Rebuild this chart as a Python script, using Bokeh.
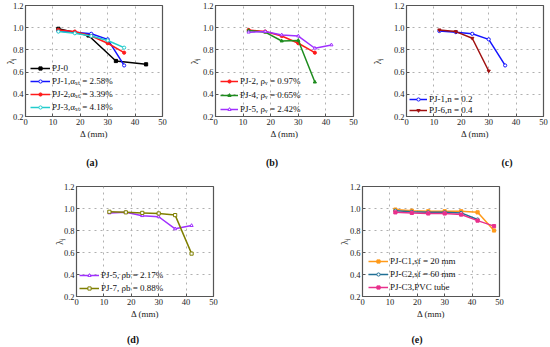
from bokeh.plotting import figure
from bokeh.layouts import row, column
from bokeh.models import Spacer, FixedTicker, Legend, LegendItem, Range1d, Div
from bokeh.embed import file_html
from bokeh.resources import INLINE

# ---------------- data ----------------
x_ticks = [0, 10, 20, 30, 40, 50]
x_tick_labels = ["0", "10", "20", "30", "40", "50"]
y_ticks = [0.2, 0.4, 0.6, 0.8, 1.0, 1.2]
y_tick_labels = ["0.2", "0.4", "0.6", "0.8", "1.0", "1.2"]
captions = ["(a)", "(b)", "(c)", "(d)", "(e)"]

pj0_x = [12, 23, 33, 44]
pj0_y = [0.99, 0.93, 0.70, 0.67]
d5 = [12, 18, 24, 30, 36]
pj1_y = [0.97, 0.96, 0.945, 0.895, 0.66]
pj2_y = [0.98, 0.965, 0.925, 0.86, 0.775]
pj3_y = [0.965, 0.95, 0.925, 0.885, 0.82]
pj4_y = [0.975, 0.96, 0.88, 0.885, 0.51]
d6 = [12, 18, 24, 30, 36, 42]
pj5_y = [0.96, 0.965, 0.935, 0.925, 0.815, 0.845]
d4 = [12, 18, 24, 30]
pj6_y = [0.98, 0.965, 0.905, 0.61]
pj7_y = [0.97, 0.965, 0.96, 0.955, 0.94, 0.59]
d7 = [12, 18, 24, 30, 36, 42, 48]
c1_y = [0.99, 0.98, 0.975, 0.975, 0.975, 0.965, 0.80]
c2_y = [0.98, 0.97, 0.965, 0.965, 0.96, 0.90]
c3_y = [0.965, 0.96, 0.955, 0.955, 0.945, 0.89, 0.84]

SERIF = "Liberation Serif"


def make_fig(w, h, bl, br, bt, bb, ylab_standoff):
    p = figure(width=w, height=h, min_border_left=bl, min_border_right=br,
               min_border_top=bt, min_border_bottom=bb,
               x_range=Range1d(0, 50), y_range=Range1d(0.2, 1.2),
               output_backend="svg", toolbar_location=None, tools="")
    p.outline_line_color = "#555555"
    p.outline_line_width = 1.2
    p.background_fill_color = "white"
    p.border_fill_color = "white"
    for ax in list(p.xaxis) + list(p.yaxis):
        ax.axis_line_color = None
        ax.major_tick_in = 3
        ax.major_tick_out = 0
        ax.major_tick_line_color = "#555555"
        ax.minor_tick_line_color = None
        ax.major_label_text_font = SERIF
        ax.major_label_text_font_size = "8.5px"
        ax.major_label_text_color = "#222222"
        ax.major_label_standoff = 2
        ax.axis_label_text_font = SERIF
        ax.axis_label_text_font_style = "normal"
        ax.axis_label_text_color = "#222222"
    p.xaxis.ticker = FixedTicker(ticks=x_ticks)
    p.yaxis.ticker = FixedTicker(ticks=y_ticks)
    p.xaxis.major_label_overrides = dict(zip(x_ticks, x_tick_labels))
    p.yaxis.major_label_overrides = dict(zip(y_ticks, y_tick_labels))
    p.xaxis.axis_label = "Δ (mm)"
    p.xaxis.axis_label_text_font_size = "9px"
    p.xaxis.axis_label_standoff = 1
    p.yaxis.axis_label = "λⱼ"
    p.yaxis.axis_label_text_font_size = "9.5px"
    p.yaxis.axis_label_standoff = ylab_standoff
    p.grid.grid_line_dash = "dotted"
    p.grid.grid_line_color = "#b0b0b0"
    return p


def series(p, x, y, color, marker, filled=True, size=3.2):
    l = p.line(x, y, line_color=color, line_width=1.5)
    s = p.scatter(x, y, marker=marker, size=size, line_color=color, line_width=1,
                  fill_color=color if filled else "white")
    return [l, s]


def add_legend(p, items, loc, h, gw):
    lg = Legend(items=[LegendItem(label=t, renderers=r) for t, r in items],
                location=loc, padding=0, margin=0, spacing=0,
                label_height=h, glyph_height=8, glyph_width=gw,
                label_standoff=2, label_text_font=SERIF,
                label_text_font_size="9px", label_text_color="#111111",
                background_fill_alpha=0, border_line_color=None)
    p.add_layout(lg)


def caption(text):
    return Div(text=text, width=40, height=13, margin=0,
               styles={"text-align": "center", "font-family": SERIF,
                       "font-size": "10px", "font-weight": "bold",
                       "color": "#111111", "line-height": "12px"})


# (a)
fa = make_fig(185, 157, 25, 23, 5, 41, -6)
ra0 = series(fa, pj0_x, pj0_y, "#000000", "square")
ra1 = series(fa, d5, pj1_y, "#1414ff", "circle", filled=False)
ra2 = series(fa, d5, pj2_y, "#ff1a1a", "circle")
ra3 = series(fa, d5, pj3_y, "#22cccc", "circle", filled=False)
add_legend(fa, [("PJ-0", ra0), ("PJ-1,αₛₜ = 2.58%", ra1),
                ("PJ-2,αₛₜ = 3.39%", ra2), ("PJ-3,αₛₜ = 4.18%", ra3)], (5, 3), 13, 20)

# (b)
fb = make_fig(183, 157, 30, 15, 5, 41, 0)
rb2 = series(fb, d5, pj2_y, "#ff1a1a", "circle")
rb4 = series(fb, d5, pj4_y, "#1e8c1e", "triangle")
rb5 = series(fb, d6, pj5_y, "#a030ff", "triangle", filled=False)
add_legend(fb, [("PJ-2, ρᵥ = 0.97%", rb2), ("PJ-4, ρᵥ = 0.65%", rb4),
                ("PJ-5, ρᵥ = 2.42%", rb5)], (5, 0), 14, 18)

# (c)
fc = make_fig(182, 157, 38, 7, 5, 41, 8)
rc1 = series(fc, d5, pj1_y, "#1414ff", "circle", filled=False)
rc6 = series(fc, d4, pj6_y, "#a01010", "inverted_triangle")
add_legend(fc, [("PJ-1,n = 0.2", rc1), ("PJ-6,n = 0.4", rc6)], (3, 1), 11, 18)

# (d)
fd = make_fig(286, 164, 30, 119, 16, 38, -4)
rd5 = series(fd, d6, pj5_y, "#a030ff", "triangle", filled=False)
rd7 = series(fd, d6, pj7_y, "#7f7f00", "square", filled=False)
add_legend(fd, [("PJ-5, ρb = 2.17%", rd5), ("PJ-7, ρb = 0.88%", rd7)], (3, 2), 13, 20)

# (e)
fe = make_fig(218, 164, 30, 51, 16, 38, -3)
re1 = series(fe, d7, c1_y, "#ff9a1a", "square")
re2 = series(fe, d6, c2_y, "#1f6f95", "circle", filled=False)
re3 = series(fe, d7, c3_y, "#e8308c", "square")
add_legend(fe, [("PJ-C1,sf = 20 mm", re1), ("PJ-C2,sf = 60 mm", re2),
                ("PJ-C3,PVC tube", re3)], (6, 3), 13, 20)

top = row(fa, fb, fc)
cap_top = row(Spacer(width=72, height=13), caption(captions[0]),
              Spacer(width=140, height=13), caption(captions[1]),
              Spacer(width=195, height=13), caption(captions[2]),
              Spacer(width=23, height=13))
bottom = row(Spacer(width=46, height=164), fd, fe)
cap_bot = row(Spacer(width=113, height=13), caption(captions[3]),
              Spacer(width=244, height=13), caption(captions[4]),
              Spacer(width=113, height=13))
layout = column(top, cap_top, bottom, cap_bot)

open("out.html", "w").write(file_html(layout, INLINE))
